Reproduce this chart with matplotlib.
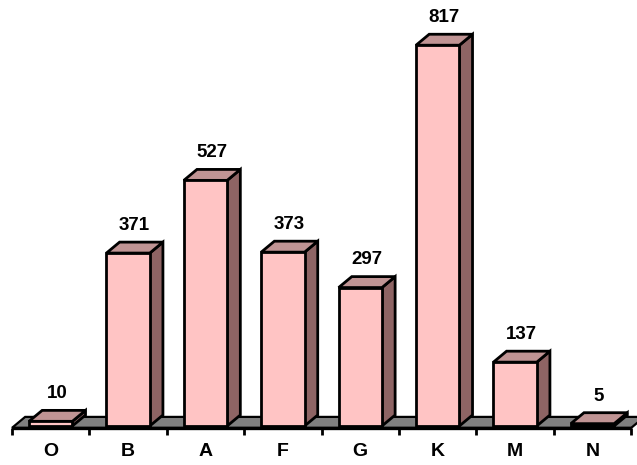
import matplotlib
matplotlib.use("Agg")
import matplotlib.pyplot as plt
from matplotlib.patches import Polygon

categories = ["O", "B", "A", "F", "G", "K", "M", "N"]
counts = [10, 371, 527, 373, 297, 817, 137, 5]

# styling
FRONT = "#ffc4c4"
SIDE = "#8e6464"
TOP = "#c09494"
FLOOR = "#808080"
EDGE = "black"
BAR_W = 0.56
DEPTH_X = 0.17      # depth offset in category units
DEPTH_Y = 23.5      # depth offset in value units
FONT = ["Liberation Sans", "DejaVu Sans"]

fig = plt.figure(figsize=(6.37, 4.65), dpi=100)
ax = fig.add_axes([0, 0, 1, 1])
ax.set_xlim(-0.655, 7.575)
ax.set_ylim(-83.7, 914)
ax.axis("off")

n = len(categories)
x0, x1 = -0.5, n - 0.5
floor_y = -4

# floor plate
floor = Polygon([(x0, floor_y), (x1, floor_y),
                 (x1 + DEPTH_X, floor_y + DEPTH_Y), (x0 + DEPTH_X, floor_y + DEPTH_Y)],
                closed=True, facecolor=FLOOR, edgecolor=EDGE, lw=1.6, zorder=1)
ax.add_patch(floor)
ax.plot([x0, x1], [floor_y, floor_y], color=EDGE, lw=2.4, zorder=2,
        solid_capstyle="butt")

# category ticks below the floor edge
for k in range(n + 1):
    xt = x0 + k
    ax.plot([xt, xt], [floor_y, floor_y - 15], color=EDGE, lw=2.0, zorder=2,
            solid_capstyle="butt")

for i, (lab, v) in enumerate(zip(categories, counts)):
    l, r = i - BAR_W / 2, i + BAR_W / 2
    b, t = 0, v
    # right side face
    side = Polygon([(r, b), (r + DEPTH_X, b + DEPTH_Y), (r + DEPTH_X, t + DEPTH_Y), (r, t)],
                   closed=True, facecolor=SIDE, edgecolor=EDGE, lw=2.0,
                   joinstyle="miter", zorder=3)
    # top face
    top = Polygon([(l, t), (r, t), (r + DEPTH_X, t + DEPTH_Y), (l + DEPTH_X, t + DEPTH_Y)],
                  closed=True, facecolor=TOP, edgecolor=EDGE, lw=2.0,
                  joinstyle="miter", zorder=3)
    # front face
    front = Polygon([(l, b), (r, b), (r, t), (l, t)],
                    closed=True, facecolor=FRONT, edgecolor=EDGE, lw=2.0,
                    joinstyle="miter", zorder=4)
    for p in (side, top, front):
        ax.add_patch(p)

    ax.text(i + DEPTH_X / 2, t + DEPTH_Y + 26, f"{v}", ha="center", va="baseline",
            fontsize=13.5, fontweight="bold", family=FONT, zorder=5)
    ax.text(i, -54, lab, ha="center", va="center",
            fontsize=14, fontweight="bold", family=FONT, zorder=5)

fig.savefig("out.png", dpi=100)
